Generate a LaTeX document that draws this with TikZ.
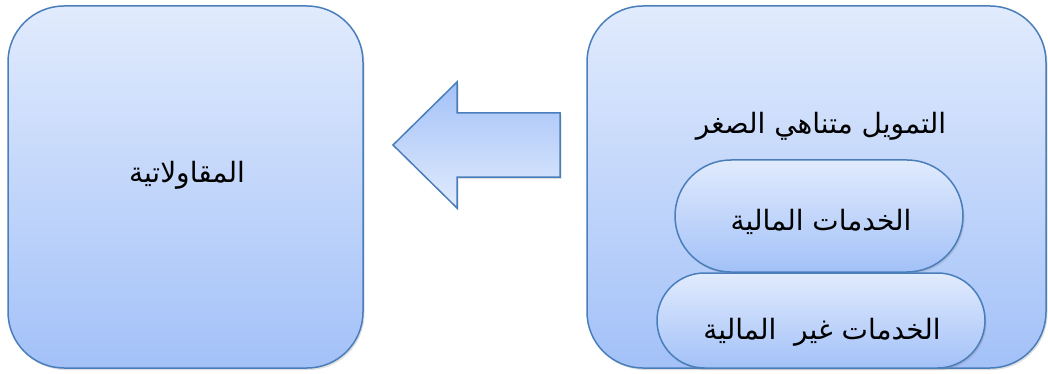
\documentclass[tikz,border=0pt]{standalone}
\usepackage{fontspec}
\newfontfamily\arabicfont[Script=Arabic]{DejaVu Sans}
\TeXXeTstate=1
\usetikzlibrary{shadows,shapes.misc}
\definecolor{edge}{HTML}{4A7EBB}
\definecolor{lite}{HTML}{E1EBFD}
\definecolor{deep}{HTML}{A3C1F8}
\tikzset{
  panel/.style={draw=edge, line width=1.5pt, rounded corners=56pt,
    top color=lite, bottom color=deep, inner sep=0pt,
    drop shadow={shadow xshift=1.5pt, shadow yshift=-2pt, opacity=0.25}},
  pill/.style={rounded rectangle, draw=edge, line width=1.5pt,
    top color=lite, bottom color=deep, inner sep=0pt,
    drop shadow={shadow xshift=1.5pt, shadow yshift=-2pt, opacity=0.25}},
  label/.style={font=\arabicfont\fontsize{28pt}{32pt}\selectfont, text=black}
}
\newcommand{\ar}[1]{\beginR #1\endR}
\begin{document}
\begin{tikzpicture}[x=1pt, y=-1pt]
  \useasboundingbox (0,0) rectangle (1048,374);
  % outer panels
  \node[panel, minimum width=355pt, minimum height=362pt] (ent) at (185.5,187) {};
  \node[panel, minimum width=459pt, minimum height=362pt] (mf) at (816.5,187) {};
  % inner services
  \node[pill, minimum width=288pt, minimum height=112pt] (fin) at (819,216) {};
  \node[pill, minimum width=328pt, minimum height=95pt] (nonfin) at (821,320.5) {};
  % labels
  \node[label] (entlbl) at (187,175) {\ar{المقاولاتية}};
  \node[label] (mflbl) at (821,126) {\ar{التمويل متناهي الصغر}};
  \node[label] (finlbl) at (821,222) {\ar{الخدمات المالية}};
  \node[label] (nonfinlbl) at (822,332) {\ar{الخدمات غير\ \ المالية}};
  % block arrow pointing from the microfinance panel to entrepreneurship
  \draw[draw=edge, line width=1.5pt, line join=miter, top color=deep, bottom color=lite,
    drop shadow={shadow xshift=1.5pt, shadow yshift=-2pt, opacity=0.25}]
    (560,113) -- (457,113) -- (457,82) -- (393,145) -- (457,208) -- (457,177) -- (560,177) -- cycle;
\end{tikzpicture}
\end{document}
